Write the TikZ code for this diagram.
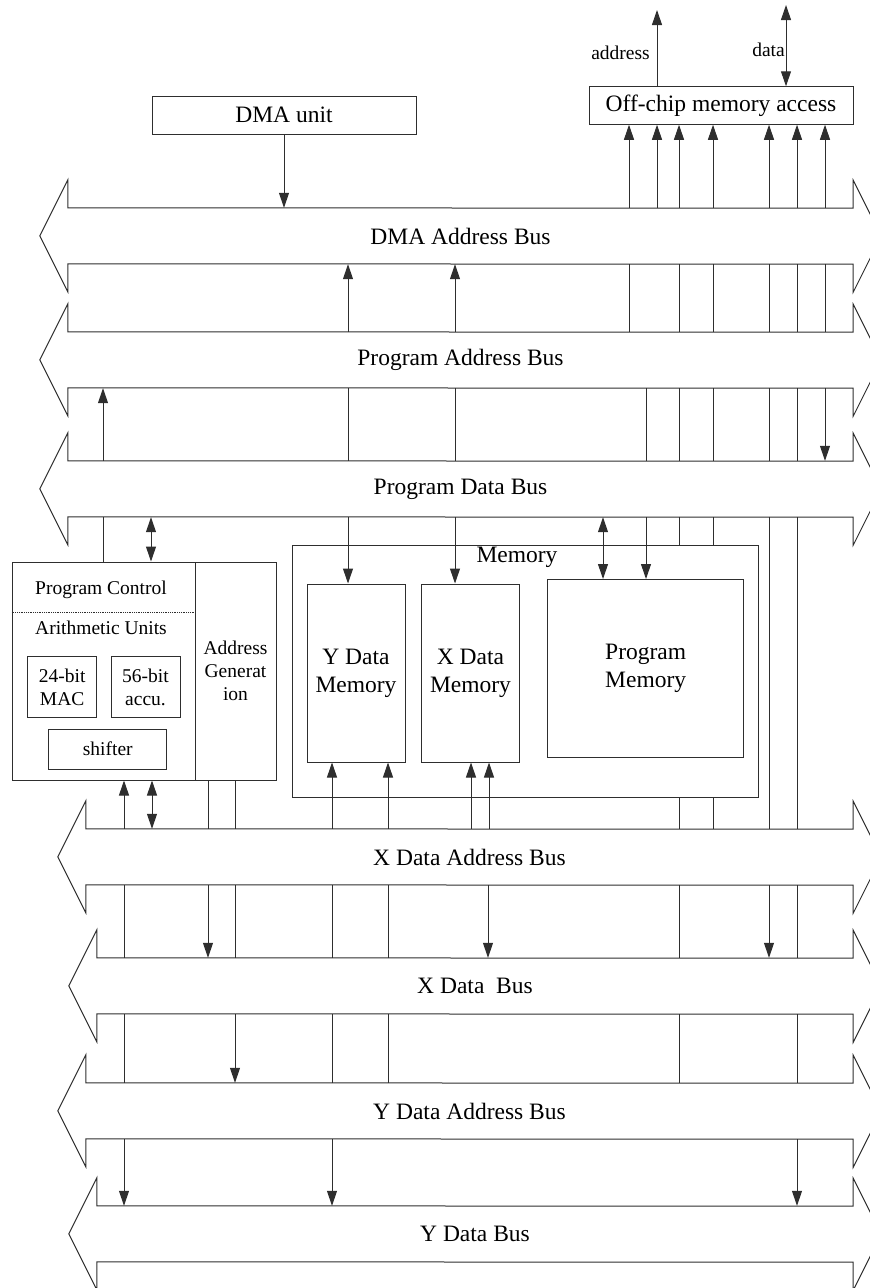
\documentclass[tikz,border=0pt]{standalone}
\usepackage{fontspec}
\setmainfont{Liberation Serif}
\usetikzlibrary{arrows.meta}

\newcommand\bigtxt{\fontsize{23.5}{28}\selectfont}
\newcommand\smalltxt{\fontsize{19.5}{23}\selectfont}

\begin{document}
\begin{tikzpicture}[
    x=1pt, y=-1pt,
    % Estilos de nodos
    box/.style={
        rectangle, draw=linegray, line width=1pt, inner sep=0pt,
        align=center, font=\bigtxt
    },
    busbody/.style={
        rectangle, inner sep=0pt, minimum height=56pt, font=\bigtxt
    },
    tag/.style={
        font=\smalltxt, inner sep=0pt, align=center
    },
    busline/.style={draw=linegray, line width=1pt},
    wire/.style={draw=linegray, line width=1pt},
    arrow/.style={wire, -{Triangle[length=15pt, width=10pt]}},
    darrow/.style={wire, {Triangle[length=15pt, width=10pt]}-{Triangle[length=15pt, width=10pt]}}
]

% ── Definir colores ──
\definecolor{linegray}{HTML}{2E2E2E}

\useasboundingbox (0,0) rectangle (870,1288);
\clip (0,0) rectangle (870,1288);

% ════════════════════════════════════════
% BUSES
% ════════════════════════════════════════
\node[busbody, minimum width=785pt] (dma)  at (460.5, 236)  {DMA Address Bus};
\node[busbody, minimum width=785pt] (pab)  at (460.5, 360)  {Program Address Bus};
\node[busbody, minimum width=785pt] (pdb)  at (460.5, 489)  {Program Data Bus};
\node[busbody, minimum width=767pt] (xdab) at (469.5, 857)  {X Data Address Bus};
\node[busbody, minimum width=756pt] (xdb)  at (475,   986)  {X Data\ \ Bus};
\node[busbody, minimum width=767pt] (ydab) at (469.5, 1111) {Y Data Address Bus};
\node[busbody, minimum width=756pt] (ydb)  at (475,   1234) {Y Data Bus};

\foreach \b in {dma, pab, pdb, xdab, xdb, ydab, ydb}
    \draw[busline] (\b.north west) -- ++(0,-28) -- ++(-28,56) -- ++(28,56) -- ++(0,-28)
        -- (\b.south east) -- ++(0,28) -- ++(28,-56) -- ++(-28,-56) -- ++(0,28) -- cycle;

% ════════════════════════════════════════
% UNIDADES (arriba)
% ════════════════════════════════════════
\node[box, minimum width=264pt, minimum height=38pt]   (dmau) at (284, 115)   {DMA unit};
\node[box, minimum width=264pt, minimum height=37.5pt] (offc) at (721, 105.5) {Off-chip memory access};

\coordinate (addrend) at (657, 10);
\coordinate (dataend) at (786, 5);
\node[tag] (addrlbl) at (620.5, 53) {address};
\node[tag] (datalbl) at (768.5, 50) {data};

% ════════════════════════════════════════
% NUCLEO: control, aritmetica, direcciones
% ════════════════════════════════════════
\node[box, minimum width=183pt, minimum height=218pt] (core) at (103.5, 671) {};
\node[box, minimum width=81pt, minimum height=218pt, font=\smalltxt] (agen) at (235.5, 671)
    {Address\\Generat\\ion};
\node[tag] (pctl)  at (101, 590) {Program Control};
\node[tag] (arith) at (101, 628) {Arithmetic Units};
\draw[draw=linegray, line width=0.8pt, densely dotted] (core.west |- 0,612) -- (core.east |- 0,612);

\node[box, minimum width=69pt, minimum height=61pt, font=\smalltxt]  (mac)  at (62.2, 687.3)  {24-bit\\MAC};
\node[box, minimum width=69pt, minimum height=61pt, font=\smalltxt]  (accu) at (145.5, 687.3) {56-bit\\accu.};
\node[box, minimum width=118pt, minimum height=40pt, font=\smalltxt] (shft) at (107.8, 749)   {shifter};

% ════════════════════════════════════════
% MEMORIA
% ════════════════════════════════════════
\node[box, minimum width=466pt, minimum height=252pt] (mem) at (525, 671) {};
\node[font=\bigtxt, inner sep=0pt] (memlbl) at (517, 557) {Memory};
\node[box, minimum width=98pt, minimum height=178pt]  (ymem) at (356, 673)     {Y Data\\Memory};
\node[box, minimum width=98pt, minimum height=178pt]  (xmem) at (470.5, 673)   {X Data\\Memory};
\node[box, minimum width=196pt, minimum height=178pt] (pmem) at (645.7, 668.5) {Program\\Memory};

% ════════════════════════════════════════
% FLECHAS arriba
% ════════════════════════════════════════
\draw[arrow]  (offc.north -| addrend) -- (addrend);
\draw[darrow] (offc.north -| dataend) -- (dataend);
\draw[arrow]  (dmau.south) -- (dma.north -| dmau.south);
\foreach \x in {629,657,679,713,769,797,825}
    \draw[arrow] (dma.north -| \x,0) -- (offc.south -| \x,0);

% DMA -> Program Address
\foreach \x in {348,455}
    \draw[arrow] (pab.north -| \x,0) -- (dma.south -| \x,0);
\foreach \x in {629,679,713,769,797,825}
    \draw[wire] (dma.south -| \x,0) -- (pab.north -| \x,0);

% Program Address -> Program Data
\draw[arrow] (pdb.north -| 103,0) -- (pab.south -| 103,0);
\foreach \x in {348,455,646,679,713,769,797}
    \draw[wire] (pab.south -| \x,0) -- (pdb.north -| \x,0);
\draw[arrow] (pab.south -| 825,0) -- (pdb.north -| 825,0);

% Program Data -> nucleo y memoria
\draw[wire]   (pdb.south -| 103,0) -- (core.north -| 103,0);
\draw[darrow] (pdb.south -| 151,0) -- (core.north -| 151,0);
\draw[arrow]  (pdb.south -| 348,0) -- (ymem.north -| 348,0);
\draw[arrow]  (pdb.south -| 455,0) -- (xmem.north -| 455,0);
\draw[darrow] (pdb.south -| 603,0) -- (pmem.north -| 603,0);
\draw[arrow]  (pdb.south -| 646,0) -- (pmem.north -| 646,0);
\foreach \x in {679,713}
    \draw[wire] (pdb.south -| \x,0) -- (mem.north -| \x,0);
\foreach \x in {769,797}
    \draw[wire] (pdb.south -| \x,0) -- (xdab.north -| \x,0);

% nucleo y memoria -> X Data Address
\draw[arrow]  (xdab.north -| 124,0) -- (core.south -| 124,0);
\draw[darrow] (xdab.north -| 152,0) -- (core.south -| 152,0);
\foreach \x in {208,235}
    \draw[wire] (agen.south -| \x,0) -- (xdab.north -| \x,0);
\foreach \x in {332,388}
    \draw[arrow] (xdab.north -| \x,0) -- (ymem.south -| \x,0);
\foreach \x in {471,489}
    \draw[arrow] (xdab.north -| \x,0) -- (xmem.south -| \x,0);
\foreach \x in {679,713}
    \draw[wire] (mem.south -| \x,0) -- (xdab.north -| \x,0);

% X Data Address -> X Data
\foreach \x in {124,235,332,388,679,797}
    \draw[wire] (xdab.south -| \x,0) -- (xdb.north -| \x,0);
\foreach \x in {208,488,769}
    \draw[arrow] (xdab.south -| \x,0) -- (xdb.north -| \x,0);

% X Data -> Y Data Address
\foreach \x in {124,332,388,679,797}
    \draw[wire] (xdb.south -| \x,0) -- (ydab.north -| \x,0);
\draw[arrow] (xdb.south -| 235,0) -- (ydab.north -| 235,0);

% Y Data Address -> Y Data
\foreach \x in {124,332,797}
    \draw[arrow] (ydab.south -| \x,0) -- (ydb.north -| \x,0);

\end{tikzpicture}
\end{document}
